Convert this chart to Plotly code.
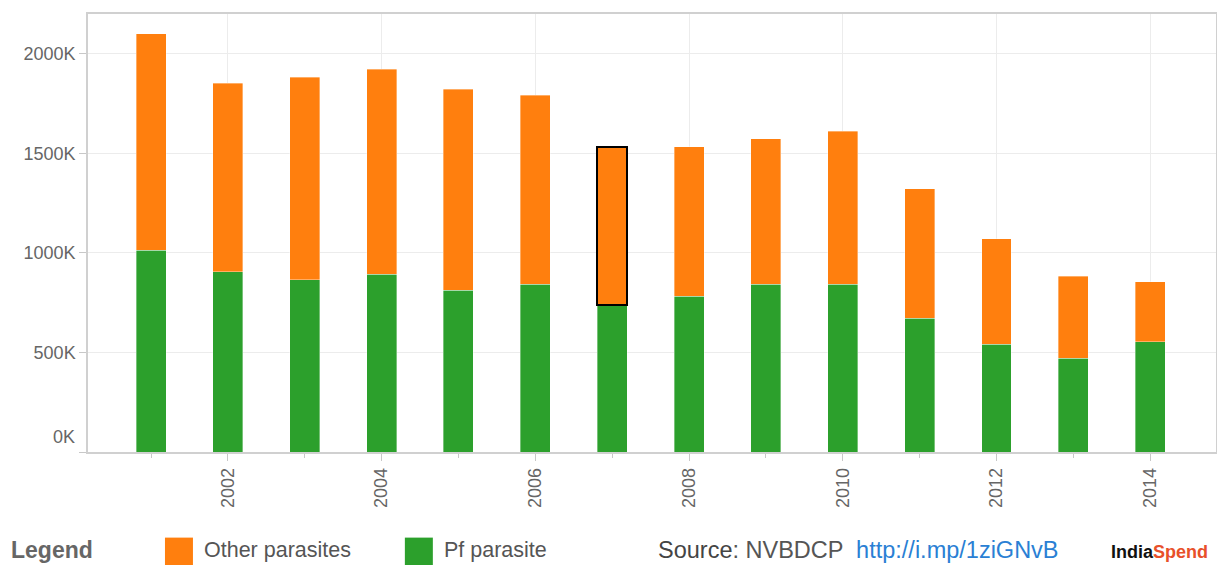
import plotly.graph_objects as go

# ---- data ----
years = [2001, 2002, 2003, 2004, 2005, 2006, 2007, 2008, 2009, 2010, 2011, 2012, 2013, 2014]
total_cases = [2100000, 1852000, 1883000, 1922000, 1823000, 1793000, 1530000,
               1533000, 1573000, 1612000, 1322000, 1072000, 882000, 855000]
pf_cases = [1013000, 905000, 865000, 893000, 813000, 843000, 738000,
            782000, 842000, 842000, 672000, 542000, 472000, 555000]
other_cases = [t - p for t, p in zip(total_cases, pf_cases)]

series_names = ["Other parasites", "Pf parasite"]
series_colors = ["#ff7f0e", "#2ca02c"]
highlight_year = 2007

y_tick_vals = [0, 500000, 1000000, 1500000, 2000000]
y_tick_text = ["0K", "500K", "1000K", "1500K", "2000K"]
x_tick_vals = [2002, 2004, 2006, 2008, 2010, 2012, 2014]
x_tick_text = ["2002", "2004", "2006", "2008", "2010", "2012", "2014"]

# ---- layout geometry (page body adds an 8px offset) ----
OFF = 8
W, H = 1225 - OFF, 565 - OFF
L, R, T, B = 88 - OFF, 1216.5 - OFF, 12 - OFF, 452 - OFF


def px(x):
    return (x - OFF - L) / (R - L)


def py(y):
    return (B - (y - OFF)) / (B - T)


FONT = "Liberation Sans, Arial, sans-serif"
TICK_COLOR = "#666666"

line_colors = ["black" if y == highlight_year else "rgba(255,255,255,0.6)" for y in years]
line_widths = [2 if y == highlight_year else 0.6 for y in years]

fig = go.Figure()
fig.add_trace(go.Bar(
    x=years, y=pf_cases, name=series_names[1], width=0.39,
    marker=dict(color=series_colors[1], line=dict(color="rgba(255,255,255,0.6)", width=0.6)),
))
fig.add_trace(go.Bar(
    x=years, y=other_cases, name=series_names[0], width=0.39,
    marker=dict(color=series_colors[0], line=dict(color=line_colors, width=line_widths)),
))

fig.update_layout(
    width=W, height=H,
    margin=dict(l=L, r=W - R, t=T, b=H - B, pad=0),
    barmode="stack",
    showlegend=False,
    plot_bgcolor="white",
    paper_bgcolor="white",
    font=dict(family=FONT, size=18, color=TICK_COLOR),
    hovermode=False,
)

fig.update_xaxes(
    range=[2000.18, 2014.856],
    tickmode="array", tickvals=x_tick_vals, ticktext=x_tick_text,
    tickangle=-90,
    tickfont=dict(size=18, color=TICK_COLOR, family=FONT),
    ticks="outside", ticklen=7, tickcolor="#c8c8c8", tickwidth=1,
    minor=dict(tickmode="array", tickvals=years, ticks="outside", ticklen=4,
               tickcolor="#c8c8c8", showgrid=False),
    showgrid=True, gridcolor="#ececec", gridwidth=1,
    showline=True, linecolor="#d0d0d0", linewidth=1.5, mirror=True,
    zeroline=False,
)

fig.update_yaxes(
    range=[0, 2200000],
    tickmode="array", tickvals=y_tick_vals,
    ticktext=[""] + y_tick_text[1:],
    tickfont=dict(size=18, color=TICK_COLOR, family=FONT),
    ticks="outside", ticklen=7, tickcolor="#c8c8c8", tickwidth=1,
    showgrid=True, gridcolor="#ececec", gridwidth=1,
    showline=True, linecolor="#d0d0d0", linewidth=1.5, mirror=True,
    zeroline=False,
)

annotations = [
    # 0K label sits slightly above the axis line, as in the reference
    dict(text=y_tick_text[0], x=px(77), y=py(437), xref="paper", yref="paper",
         xanchor="right", yanchor="middle", showarrow=False,
         font=dict(size=18, color=TICK_COLOR, family=FONT)),
    dict(text="<b>Legend</b>", x=px(9), y=py(550), xref="paper", yref="paper",
         xanchor="left", yanchor="middle", showarrow=False,
         font=dict(size=23, color="#666666", family=FONT)),
    dict(text=series_names[0], x=px(202), y=py(550), xref="paper", yref="paper",
         xanchor="left", yanchor="middle", showarrow=False,
         font=dict(size=21.5, color="#555555", family=FONT)),
    dict(text=series_names[1], x=px(442), y=py(550), xref="paper", yref="paper",
         xanchor="left", yanchor="middle", showarrow=False,
         font=dict(size=21.5, color="#555555", family=FONT)),
    dict(text="<span style='color:#444444'>Source</span>: NVBDCP  "
              "<span style='color:#2a7fd4'>http://i.mp/1ziGNvB</span>",
         x=px(656), y=py(550), xref="paper", yref="paper",
         xanchor="left", yanchor="middle", showarrow=False,
         font=dict(size=23.5, color="#555555", family=FONT)),
    dict(text="<b>India</b><b><span style='color:#e8502a'>Spend</span></b>",
         x=px(1109), y=py(552), xref="paper", yref="paper",
         xanchor="left", yanchor="middle", showarrow=False,
         font=dict(size=18, color="#111111", family=FONT)),
]
fig.update_layout(annotations=annotations)

shapes = [
    dict(type="rect", xref="paper", yref="paper",
         x0=px(165), x1=px(193), y0=py(538), y1=py(566),
         fillcolor=series_colors[0], line=dict(width=0)),
    dict(type="rect", xref="paper", yref="paper",
         x0=px(405), x1=px(433), y0=py(538), y1=py(566),
         fillcolor=series_colors[1], line=dict(width=0)),
]
fig.update_layout(shapes=shapes)

fig.write_html("out.html", config={"displayModeBar": False})
